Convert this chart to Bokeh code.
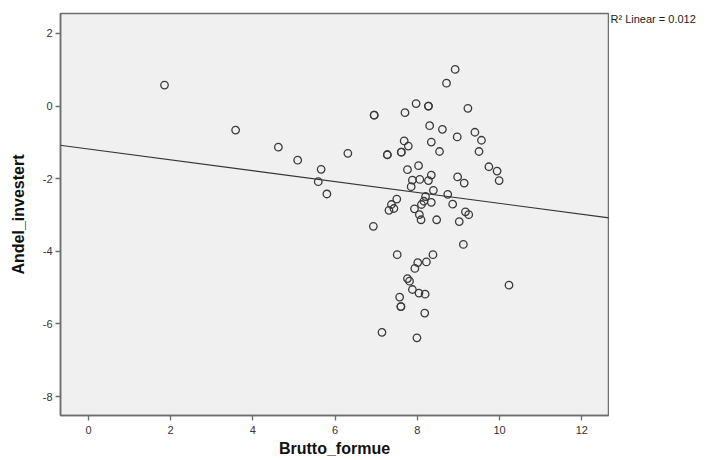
from bokeh.plotting import figure
from bokeh.models import FixedTicker, Slope, Label
from bokeh.layouts import row
from bokeh.embed import file_html
from bokeh.resources import INLINE

# Data (Brutto_formue vs Andel_investert)
brutto_formue = [
    1.85, 3.58, 4.62, 5.09, 5.66, 5.59, 5.80, 6.31, 6.95, 6.95, 6.93,
    8.92, 8.71, 7.97, 8.27, 8.27, 7.70, 9.23, 8.30, 8.61, 8.97, 9.40,
    9.56, 9.50, 7.68, 7.78, 8.34, 8.54, 7.27, 7.27, 7.61, 7.61, 7.76,
    8.03, 9.74, 9.94, 9.99, 7.88, 8.06, 8.34, 8.27, 8.98, 9.14, 7.85,
    8.39, 8.20, 8.74, 7.50, 7.37, 7.43, 7.31, 8.16, 8.10, 8.34, 8.86,
    7.93, 8.05, 8.09, 8.47, 9.17, 9.25, 9.02, 9.12, 7.51, 8.38, 8.01,
    8.22, 7.94, 7.76, 7.81, 7.88, 8.04, 8.19, 10.23, 7.57, 7.60, 7.60,
    8.18, 7.14, 7.99,
]
andel_investert = [
    0.58, -0.66, -1.13, -1.49, -1.74, -2.08, -2.42, -1.30, -0.25, -0.25, -3.31,
    1.01, 0.63, 0.07, 0.00, 0.00, -0.18, -0.06, -0.54, -0.64, -0.85, -0.72,
    -0.94, -1.25, -0.96, -1.10, -0.99, -1.25, -1.34, -1.34, -1.27, -1.27, -1.75,
    -1.64, -1.67, -1.79, -2.05, -2.04, -2.02, -1.90, -2.05, -1.95, -2.12, -2.22,
    -2.32, -2.49, -2.43, -2.56, -2.71, -2.82, -2.87, -2.62, -2.71, -2.65, -2.70,
    -2.83, -2.99, -3.13, -3.13, -2.91, -2.99, -3.18, -3.81, -4.09, -4.09, -4.31,
    -4.29, -4.47, -4.75, -4.82, -5.05, -5.15, -5.18, -4.93, -5.26, -5.52, -5.52,
    -5.70, -6.23, -6.38,
]

# Linear fit line shown in the reference
fit_intercept = -1.18
fit_slope = -0.150
r2_text = "R\u00b2 Linear = 0.012"

x_ticks = [0, 2, 4, 6, 8, 10, 12]
y_ticks = [-8, -6, -4, -2, 0, 2]

FONT = "Liberation Sans"

p = figure(
    width=609, height=460,
    x_range=(-0.68, 12.65), y_range=(-8.52, 2.55),
    output_backend="svg", toolbar_location=None,
    min_border_left=60, min_border_right=1,
    min_border_top=13, min_border_bottom=45,
)
p.background_fill_color = "#f0f0f0"
p.border_fill_color = "white"
p.outline_line_color = "#6e6e6e"
p.outline_line_width = 1.5
p.grid.visible = False

p.add_layout(Slope(gradient=fit_slope, y_intercept=fit_intercept,
                   line_color="#333333", line_width=1.1))

p.scatter(brutto_formue, andel_investert, marker="circle", size=7.5,
          fill_alpha=0, line_color="#3a3a3a", line_width=1.3)

for ax in (p.xaxis[0], p.yaxis[0]):
    ax.axis_line_color = "#6e6e6e"
    ax.axis_line_width = 1.5
    ax.major_tick_line_color = "#6e6e6e"
    ax.major_tick_line_width = 1.3
    ax.major_tick_in = 0
    ax.major_tick_out = 5
    ax.minor_tick_line_color = None
    ax.major_label_text_font = FONT
    ax.major_label_text_font_size = "11px"
    ax.major_label_text_color = "#333333"
    ax.axis_label_text_font = FONT
    ax.axis_label_text_font_size = "16px"
    ax.axis_label_text_font_style = "bold"
    ax.axis_label_text_color = "#111111"

p.xaxis.ticker = FixedTicker(ticks=x_ticks)
p.yaxis.ticker = FixedTicker(ticks=y_ticks)
p.xaxis.major_label_overrides = {t: str(t) for t in x_ticks}
p.yaxis.major_label_overrides = {t: str(t) for t in y_ticks}
p.xaxis.axis_label = "Brutto_formue"
p.yaxis.axis_label = "Andel_investert"
p.xaxis.major_label_standoff = 5
p.xaxis.axis_label_standoff = 3
p.yaxis.major_label_standoff = 3
p.yaxis.axis_label_standoff = 13

# side strip carrying the R² note next to the plot box
q = figure(
    width=98, height=460, x_range=(0, 1), y_range=(0, 1),
    output_backend="svg", toolbar_location=None,
    min_border=0, min_border_left=0, min_border_right=0,
    min_border_top=0, min_border_bottom=0,
)
q.axis.visible = False
q.grid.visible = False
q.outline_line_color = None
q.background_fill_color = "white"
q.border_fill_color = "white"
q.add_layout(Label(x=0, y=1, x_offset=1, y_offset=1,
                   text=r2_text, text_baseline="top", text_align="left",
                   text_font=FONT, text_font_size="11px", text_color="#222222"))

layout = row(p, q, spacing=0)
open("out.html", "w").write(file_html(layout, INLINE))
